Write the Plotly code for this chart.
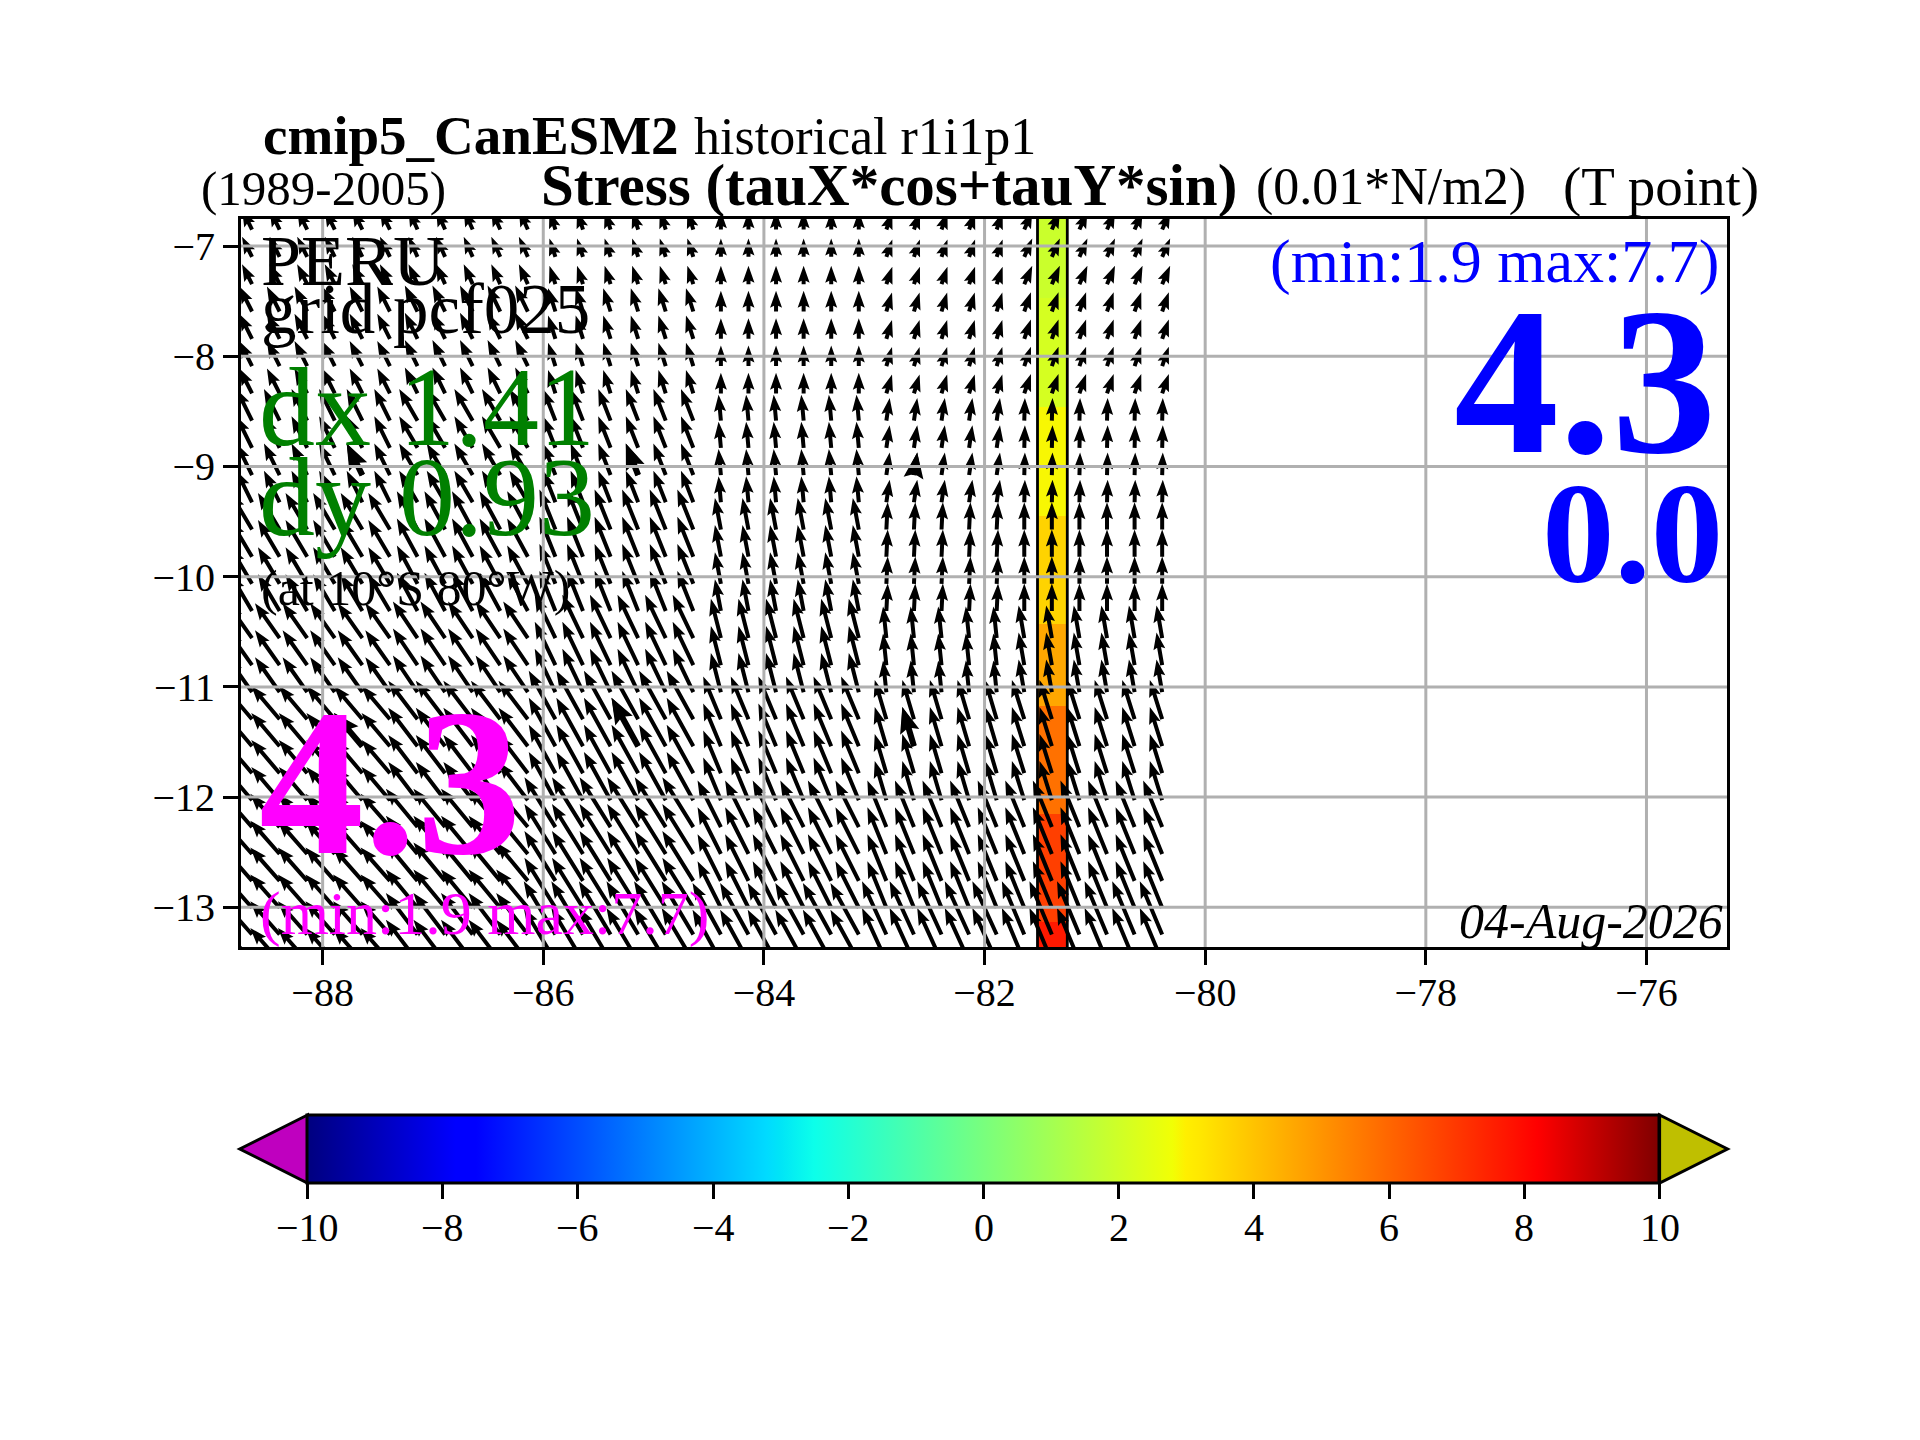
import numpy as np
import plotly.graph_objects as go

# axis ticks
lon_ticks = [-88, -86, -84, -82, -80, -78, -76]
lat_ticks = [-7, -8, -9, -10, -11, -12, -13]
cbar_ticks = [-10, -8, -6, -4, -2, 0, 2, 4, 6, 8, 10]

# arrow tails, 0.25 deg grid
lons = [-88.64, -88.39, -88.14, -87.89, -87.64, -87.39, -87.14, -86.89, -86.64, -86.39, -86.14, -85.89,
        -85.64, -85.39, -85.14, -84.89, -84.64, -84.39, -84.14, -83.89, -83.64, -83.39, -83.14, -82.89,
        -82.64, -82.39, -82.14, -81.89, -81.64, -81.39, -81.14, -80.89, -80.64, -80.39]
lats = [-6.85, -7.098, -7.346, -7.594, -7.842, -8.089, -8.337, -8.584, -8.831, -9.078, -9.325, -9.572,
        -9.819, -10.065, -10.311, -10.557, -10.803, -11.048, -11.293, -11.538, -11.783, -12.028, -12.272,
        -12.516, -12.76, -13.004, -13.247, -13.49]

# the model grid is coarse (dx 1.41, dy about 0.93): stress per model cell
lon_edges = [-88.75, -87.34, -85.93, -84.52, -83.11, -81.70, -80.29]
lat_edges = [-6.6, -7.47, -8.46, -9.45, -10.43, -11.17, -12.15, -13.13, -13.6]
taux = [[-1.54, -1.38, -0.92, 0.00, 0.92, 1.23],
        [-1.95, -1.95, -1.13, 0.00, 0.87, 1.03],
        [-2.41, -2.82, -1.90, -0.36, 0.51, 0.10],
        [-3.33, -3.18, -2.46, -0.92, 0.21, 0.00],
        [-3.79, -3.79, -3.18, -1.54, -0.51, -0.87],
        [-4.36, -4.51, -4.10, -2.72, -1.79, -1.90],
        [-4.51, -4.87, -4.77, -3.59, -2.92, -2.92],
        [-4.51, -4.87, -4.87, -4.36, -3.74, -3.44]]
tauy = [[3.08, 3.08, 2.82, 2.82, 2.67, 2.82],
        [3.85, 4.00, 3.59, 3.18, 2.92, 2.97],
        [4.87, 4.87, 4.87, 4.00, 3.49, 3.49],
        [5.64, 5.90, 6.15, 4.87, 4.21, 4.21],
        [5.38, 5.64, 6.67, 6.05, 4.87, 5.03],
        [5.13, 5.90, 7.44, 6.56, 6.05, 6.05],
        [5.13, 5.90, 7.69, 7.18, 7.18, 7.18],
        [5.13, 6.41, 8.21, 7.95, 8.21, 8.21]]

# every tenth arrow is drawn a second time, heavier
bold_cols = [4, 14, 24]
bold_rows = [9, 19]

# the one coloured strip
strip_lons = [-81.52, -81.25]
strip_values = [[1.9], [2.15], [2.9], [3.66], [4.6], [5.76], [6.85], [7.66]]

# matplotlib jet
jet = [[0.0, '#00007f'], [0.11, '#0000ff'], [0.125, '#0000ff'], [0.34, '#00dbff'], [0.35, '#00e5f7'],
       [0.375, '#0cffea'], [0.64, '#f1ff05'], [0.65, '#ffef00'], [0.66, '#ffe800'], [0.89, '#ff1300'],
       [0.91, '#ff0000'], [1.0, '#7f0000']]

FONT = 'Liberation Serif'
W, H = 1920, 1440
BODY_MARGIN = 8  # the page puts the figure 8px in from the corner
PX_PER_DEG = 110.3
PX_PER_TAU = 6.5


def page_x(x):
    return (x - BODY_MARGIN) / W


def page_y(y):
    return 1 - (y - BODY_MARGIN) / H


def arrow_path(col, row, shaft, head_w, head_l, notch):
    # one quiver polygon, tail on the grid point, sizes in screen pixels
    lon, lat = lons[col], lats[row]
    i = np.searchsorted(lon_edges, lon) - 1
    j = np.searchsorted([-e for e in lat_edges], -lat) - 1
    u, v = taux[j][i] * PX_PER_TAU, tauy[j][i] * PX_PER_TAU
    length = np.hypot(u, v)
    ax, ay = u / length, v / length
    nx, ny = -ay, ax
    outline = [(0, shaft / 2), (length - notch, shaft / 2), (length - head_l, head_w / 2), (length, 0),
               (length - head_l, -head_w / 2), (length - notch, -shaft / 2), (0, -shaft / 2), (0, shaft / 2)]
    xs = [lon + (a * ax + b * nx) / PX_PER_DEG for a, b in outline]
    ys = [lat + (a * ay + b * ny) / PX_PER_DEG for a, b in outline]
    return xs + [None], ys + [None]


def arrows_trace(pairs, shaft, head_w, head_l, notch):
    xs, ys = [], []
    for col, row in pairs:
        px, py = arrow_path(col, row, shaft, head_w, head_l, notch)
        xs += px
        ys += py
    return go.Scatter(x=xs, y=ys, mode='lines', line=dict(width=0), fill='toself', fillcolor='black',
                      hoverinfo='skip')


fig = go.Figure()

fig.add_trace(go.Heatmap(
    x=strip_lons, y=lat_edges, z=strip_values, zmin=-10, zmax=10, colorscale=jet, hoverinfo='skip',
    colorbar=dict(orientation='h', x=page_x(983.5), xanchor='center', len=1352 / W, lenmode='fraction',
                  y=page_y(1115), yanchor='top', yref='paper', thickness=68, xpad=0, ypad=0,
                  outlinecolor='black', outlinewidth=3, tickvals=cbar_ticks, ticks='outside', ticklen=15,
                  tickwidth=2.7, tickcolor='black', showticklabels=False)))

# black edges of the strip
edge_x, edge_y = [], []
for lon in strip_lons:
    edge_x += [lon, lon, None]
    edge_y += [lat_edges[0], lat_edges[-1], None]
fig.add_trace(go.Scatter(x=edge_x, y=edge_y, mode='lines', line=dict(color='black', width=2.8), hoverinfo='skip'))

fig.add_trace(arrows_trace([(c, r) for c in range(len(lons)) for r in range(len(lats))], 4, 12, 17, 15))
fig.add_trace(arrows_trace([(c, r) for c in bold_cols for r in bold_rows], 6, 20, 26, 23))

# grid goes over the arrows in the original
grid_x, grid_y = [], []
for lon in lon_ticks:
    grid_x += [lon, lon, None]
    grid_y += [-20, 0, None]
for lat in lat_ticks:
    grid_x += [-100, -70, None]
    grid_y += [lat, lat, None]
fig.add_trace(go.Scatter(x=grid_x, y=grid_y, mode='lines', line=dict(color='#b0b0b0', width=3), hoverinfo='skip'))


def note(text, x, y, size, color='black', anchor='left', bold=False, italic=False):
    # x, y in page pixels, y is the text baseline
    if bold:
        text = '<b>' + text + '</b>'
    if italic:
        text = '<i>' + text + '</i>'
    fig.add_annotation(text=text, x=page_x(x), y=page_y(y - 0.34 * size), xref='paper', yref='paper',
                       xanchor=anchor, yanchor='middle', showarrow=False, borderpad=0,
                       font=dict(family=FONT, size=size, color=color))


note('cmip5_CanESM2', 262, 154, 55, bold=True)
note('historical r1i1p1', 693, 154, 52)
note('(1989-2005)', 200, 205, 49)
note('Stress (tauX*cos+tauY*sin)', 540, 205, 59, bold=True)
note('(0.01*N/m2)', 1255, 205, 52)
note('(T point)', 1562, 205, 55)

note('PERU', 260, 285, 72)
note('grid pcf025', 260, 333, 71)
note('dx 1.41', 258, 445, 112, color='green')
note('dy 0.93', 258, 535, 112, color='green')
note('(at 10°S 80°W)', 260, 605, 50)
note('4.3', 258, 853, 210, color='magenta', bold=True)
note('(min:1.9 max:7.7)', 259, 935, 62, color='magenta')

note('(min:1.9 max:7.7)', 1720, 283, 62, color='blue', anchor='right')
note('4.3', 1718, 452, 210, color='blue', anchor='right', bold=True)
note('0.0', 1724, 582, 145, color='blue', anchor='right', bold=True)
note('04-Aug-2026', 1724, 938, 50, anchor='right', italic=True)

# colorbar tick labels, they sit closer to the bar than plotly puts them
for tick in cbar_ticks:
    label = str(tick).replace('-', '\u2212')
    fig.add_annotation(text=label, x=page_x(983.5 + tick * 67.6), y=page_y(1227), xref='paper', yref='paper',
                       xanchor='center', yanchor='middle', showarrow=False, borderpad=0,
                       font=dict(family=FONT, size=40, color='black'))

# extend triangles of the colorbar
for tip, base, colour in [(239.8, 307.5, '#bf00bf'), (1727.5, 1659.6, '#bfbf00')]:
    path = 'M %f,%f L %f,%f L %f,%f Z' % (page_x(base), page_y(1115), page_x(tip), page_y(1149),
                                          page_x(base), page_y(1183))
    fig.add_shape(type='path', path=path, xref='paper', yref='paper', fillcolor=colour,
                  line=dict(color='black', width=3), layer='above')

axis_style = dict(showgrid=False, zeroline=False, showline=True, mirror=True, linecolor='black', linewidth=3,
                  ticks='outside', ticklen=15, tickwidth=2.7, tickcolor='black', layer='above traces',
                  fixedrange=True, tickfont=dict(family=FONT, size=40, color='black'))

fig.update_layout(
    width=W, height=H, autosize=False, margin=dict(l=0, r=0, t=0, b=0), showlegend=False,
    paper_bgcolor='white', plot_bgcolor='white',
    xaxis=dict(domain=[page_x(241), page_x(1727)], range=[-88.74, -75.27], tickvals=lon_ticks,
               ticklabelstandoff=-7, **axis_style),
    yaxis=dict(domain=[page_y(947), page_y(218.5)], range=[-13.36, -6.75], tickvals=lat_ticks, **axis_style))

fig.write_html("out.html")
